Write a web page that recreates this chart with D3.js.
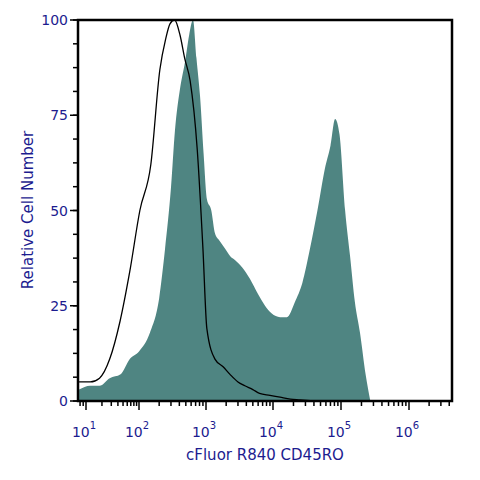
<!DOCTYPE html>
<html><head><meta charset="utf-8">
<script src="https://cdn.jsdelivr.net/npm/d3@7"></script>
<style>body{margin:0;background:#fff}</style></head>
<body><svg id="c" width="480" height="480"></svg>
<script>
// stained sample (filled) : [fluorescence, % of max]
var stainedX = [7.7, 12, 18, 28, 45, 67, 100, 146, 200, 245, 300, 344, 410, 486, 560, 640, 720, 815, 920, 1030, 1200, 1360, 1600, 1920, 2300, 2700, 3500, 4540, 6000, 7600, 9500, 12700, 16000, 21000, 27000, 35000, 45000, 58000, 70000, 82000, 95000, 115000, 136000, 160000, 190000, 230000, 270000];
var stainedY = [3, 4, 4, 6, 7, 11, 13, 18, 27, 40, 56, 71, 82, 89, 96, 100, 90, 80, 65, 53, 50, 44, 42, 40, 38, 37, 35, 32, 28, 25, 23, 22, 22, 26, 31, 40, 50, 61, 67, 74, 70, 50, 38, 26, 18, 7, 0];
// unstained control (outline)
var ctrlX = [7.7, 12, 18, 28, 44, 67, 103, 150, 205, 250, 290, 340, 410, 480, 580, 740, 900, 1030, 1360, 1800, 2280, 3000, 3800, 5000, 6300, 9000, 12700, 18000, 25000, 40000];
var ctrlY = [5, 5, 6, 11, 21, 34, 50, 62, 87, 95, 99, 100, 96, 90, 84, 66, 40, 19, 11, 9, 7, 5, 4, 3, 2, 1.5, 1, 0.5, 0.3, 0];
var xTicks = [10, 100, 1000, 10000, 100000, 1000000];
var yTicks = [0, 25, 50, 75, 100];

var svg = d3.select('#c');
var navy = '#1c1c8f';
var font = 'DejaVu Sans, Verdana, sans-serif';
var x = d3.scaleLog()
  .domain([7.4, 10, 100, 1000, 10000, 100000, 1000000, 4.4e6])
  .range([78, 86, 139, 206, 273, 341, 409, 452]);
var y = d3.scaleLinear().domain([0, 100]).range([401, 20]);

var area = d3.area().curve(d3.curveMonotoneX)
  .x(function(d){ return x(d[0]); }).y0(y(0)).y1(function(d){ return y(d[1]); });
var line = d3.line().curve(d3.curveMonotoneX)
  .x(function(d){ return x(d[0]); }).y(function(d){ return y(d[1]); });

svg.append('path')
  .datum(d3.zip(stainedX, stainedY))
  .attr('d', area)
  .attr('fill', '#4f8582');

svg.append('path')
  .datum(d3.zip(ctrlX, ctrlY))
  .attr('d', line)
  .attr('fill', 'none')
  .attr('stroke', 'black')
  .attr('stroke-width', 1.3);

// frame
svg.append('rect')
  .attr('x', 78).attr('y', 20).attr('width', 374).attr('height', 381)
  .attr('fill', 'none').attr('stroke', 'black').attr('stroke-width', 2.5);

// x ticks
var minor = [8, 9];
for (var p = 1; p <= 6; p++) {
  for (var k = 2; k <= 9; k++) {
    var v = k * Math.pow(10, p);
    if (v < 4.4e6) minor.push(v);
  }
}
svg.selectAll('.xmin').data(minor).enter().append('line')
  .attr('x1', function(d){ return x(d); }).attr('x2', function(d){ return x(d); })
  .attr('y1', 401).attr('y2', 406).attr('stroke', 'black').attr('stroke-width', 1.5);
svg.selectAll('.xmaj').data(xTicks).enter().append('line')
  .attr('x1', function(d){ return x(d); }).attr('x2', function(d){ return x(d); })
  .attr('y1', 401).attr('y2', 410).attr('stroke', 'black').attr('stroke-width', 1.5);
var xl = svg.selectAll('.xl').data(xTicks).enter().append('text')
  .attr('x', function(d){ return x(d) - 2; }).attr('y', 437)
  .attr('text-anchor', 'middle')
  .style('font-family', font).style('font-size', '14px').attr('fill', navy);
xl.append('tspan').text('10');
xl.append('tspan').attr('dy', -8).style('font-size', '10px')
  .text(function(d){ return Math.round(Math.log10(d)); });

// y ticks
var yMinor = d3.range(0, 100.1, 6.25);
svg.selectAll('.ymin').data(yMinor).enter().append('line')
  .attr('x1', 73).attr('x2', 78)
  .attr('y1', function(d){ return y(d); }).attr('y2', function(d){ return y(d); })
  .attr('stroke', 'black').attr('stroke-width', 1.5);
svg.selectAll('.ymaj').data(yTicks).enter().append('line')
  .attr('x1', 70).attr('x2', 78)
  .attr('y1', function(d){ return y(d); }).attr('y2', function(d){ return y(d); })
  .attr('stroke', 'black').attr('stroke-width', 1.5);
svg.selectAll('.yl').data(yTicks).enter().append('text')
  .attr('x', 68).attr('y', function(d){ return y(d) + 5; })
  .attr('text-anchor', 'end')
  .style('font-family', font).style('font-size', '14px').attr('fill', navy)
  .text(function(d){ return d; });

svg.append('text')
  .attr('x', 265).attr('y', 460).attr('text-anchor', 'middle')
  .style('font-family', font).style('font-size', '15px').attr('fill', navy)
  .text('cFluor R840 CD45RO');
svg.append('text')
  .attr('transform', 'translate(33,210) rotate(-90)').attr('text-anchor', 'middle')
  .style('font-family', font).style('font-size', '15px').attr('fill', navy)
  .text('Relative Cell Number');
</script></body></html>
